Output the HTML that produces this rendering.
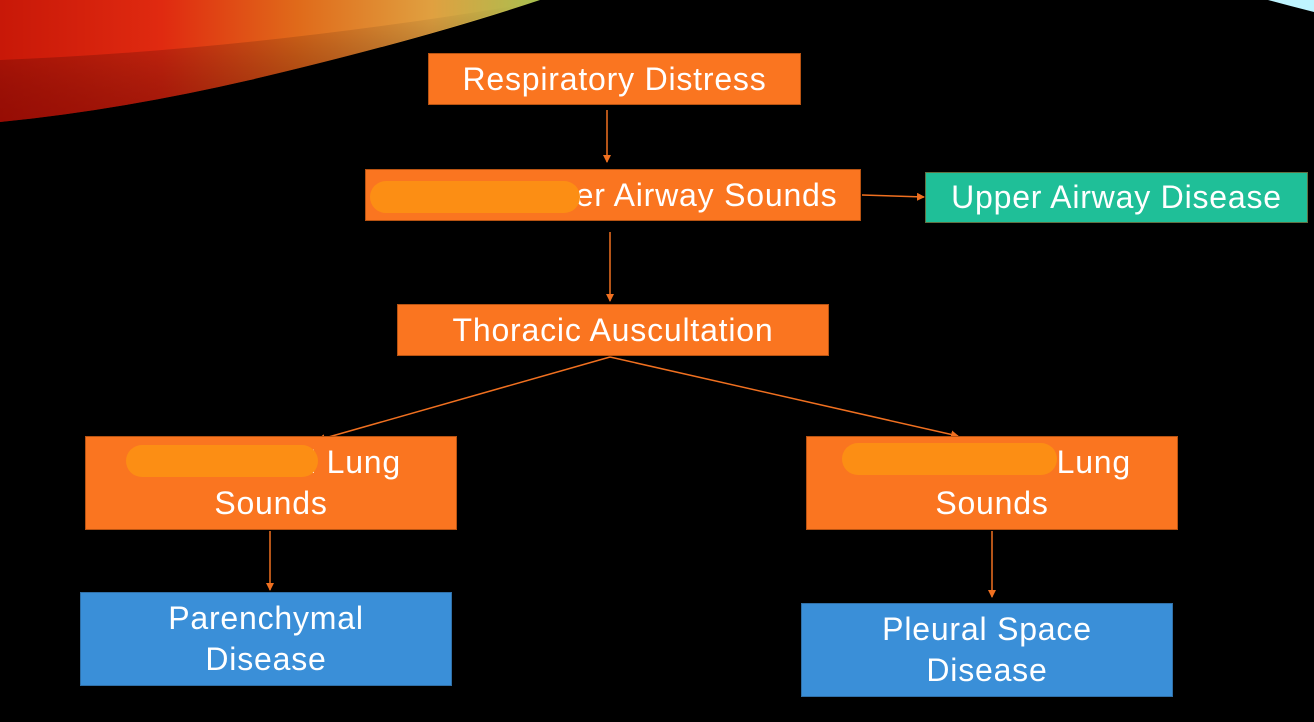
<!DOCTYPE html>
<html><head><meta charset="utf-8"><style>
html,body{margin:0;padding:0;background:#000;}
#c{position:relative;width:1314px;height:722px;overflow:hidden;background:#000;font-family:"Liberation Sans",sans-serif;}
.b{position:absolute;box-sizing:border-box;color:#fff;display:flex;align-items:center;justify-content:center;text-align:center;font-size:32px;letter-spacing:0.8px;line-height:41px;border:1px solid rgba(140,60,10,.6);white-space:nowrap;}
.o{background:#fa7520;}
.t{background:#1fbf98;}
.bl{background:#3a8fd8;border-color:#3070a8;}
.s{position:absolute;background:#fc8e14;border-radius:16px;}
.sh{position:relative;}
</style></head><body><div id="c">
<svg width="1314" height="722" style="position:absolute;left:0;top:0">
<defs>
<linearGradient id="g" x1="0" y1="0" x2="1" y2="0">
<stop offset="0" stop-color="#c81808"/><stop offset="0.3" stop-color="#e02a10"/><stop offset="0.55" stop-color="#e06a1a"/><stop offset="0.8" stop-color="#e0a040"/><stop offset="1" stop-color="#a8c050"/>
</linearGradient>
<linearGradient id="v" x1="0" y1="0" x2="0" y2="1">
<stop offset="0" stop-color="#000" stop-opacity="0"/><stop offset="1" stop-color="#600" stop-opacity="0.5"/>
</linearGradient>
<marker id="a" markerWidth="8" markerHeight="8" refX="7" refY="4" orient="auto" markerUnits="userSpaceOnUse"><path d="M0,0 L8,4 L0,8 z" fill="#f07020"/></marker>
</defs>
<path d="M0,0 L540,0 Q420,40 250,80 Q120,110 0,122 Z" fill="url(#g)"/>
<path d="M0,60 Q250,50 520,5 Q420,40 250,80 Q120,110 0,122 Z" fill="url(#v)"/>
<path d="M1268,0 L1314,0 L1314,12 Q1290,6 1268,0 Z" fill="#bff4ff"/>
<g stroke="#f07020" stroke-width="1.5" fill="none" marker-end="url(#a)">
<line x1="607" y1="110" x2="607" y2="162"/>
<line x1="610" y1="232" x2="610" y2="301"/>
<line x1="862" y1="195" x2="924" y2="197"/>
<line x1="610" y1="357" x2="318" y2="440"/>
<line x1="610" y1="357" x2="958" y2="436"/>
<line x1="270" y1="531" x2="270" y2="590"/>
<line x1="992" y1="531" x2="992" y2="597"/>
</g>
</svg>
<div class="b o" style="left:428px;top:53px;width:373px;height:52px;">Respiratory Distress</div>
<div class="b o" style="left:365px;top:169px;width:496px;height:52px;padding-left:126px;">Upper Airway Sounds</div>
<div class="s" style="left:370px;top:181px;width:210px;height:32px;"></div>
<div class="b t" style="left:925px;top:172px;width:383px;height:51px;">Upper Airway Disease</div>
<div class="b o" style="left:397px;top:304px;width:432px;height:52px;">Thoracic Auscultation</div>
<div class="b o" style="left:85px;top:436px;width:372px;height:94px;"><div><span class="sh" style="left:34px">Normal Lung</span><br>Sounds</div></div>
<div class="s" style="left:126px;top:445px;width:192px;height:32px;"></div>
<div class="b o" style="left:806px;top:436px;width:372px;height:94px;"><div><span class="sh" style="left:43px">Normal Lung</span><br>Sounds</div></div>
<div class="s" style="left:842px;top:443px;width:215px;height:32px;"></div>
<div class="b bl" style="left:80px;top:592px;width:372px;height:94px;">Parenchymal<br>Disease</div>
<div class="b bl" style="left:801px;top:603px;width:372px;height:94px;">Pleural Space<br>Disease</div>
</div></body></html>
